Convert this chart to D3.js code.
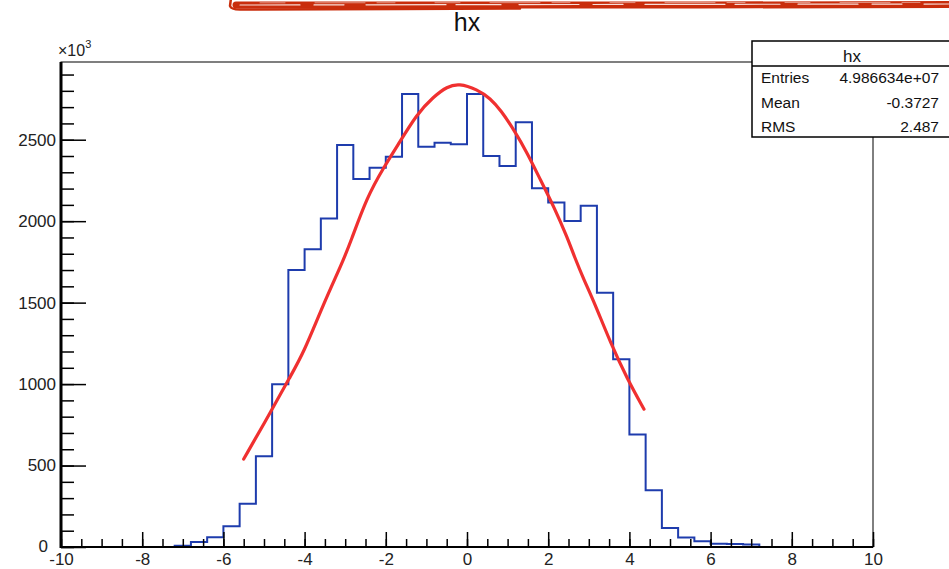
<!DOCTYPE html>
<html>
<head>
<meta charset="utf-8">
<script src="https://cdn.jsdelivr.net/npm/d3@7"></script>
<style>
  body { margin: 0; background: #fff; }
  svg { display: block; font-family: "Liberation Sans", Arial, sans-serif; }
</style>
</head>
<body>
<svg id="chart" width="949" height="569"></svg>
<script>
// histogram bins (lower edges, width 0.4) and counts in units of 10^3
const binEdges = [-7.2,-6.8,-6.4,-6.0,-5.6,-5.2,-4.8,-4.4,-4.0,-3.6,-3.2,-2.8,-2.4,-2.0,-1.6,-1.2,-0.8,-0.4,
                  0.0,0.4,0.8,1.2,1.6,2.0,2.4,2.8,3.2,3.6,4.0,4.4,4.8,5.2,5.6,6.0,6.4,6.8];
const binCounts = [8,31,60,127,266,557,999,1700,1827,2017,2468,2259,2328,2396,2781,2457,2482,2472,
                   2781,2400,2339,2607,2202,2115,2001,2095,1560,1153,690,348,117,58,35,20,18,15];
const binWidth = 0.4;

// hand drawn red fit curve
const fitX = [-5.5,-4.81,-4.36,-4.03,-3.53,-3.08,-2.87,-2.46,-2.05,-1.72,-1.23,-0.82,-0.49,-0.2,
              0.25,0.58,0.83,1.16,1.49,1.81,2.14,2.47,2.64,2.88,3.13,3.54,3.95,4.36];
const fitY = [540,840,1044,1188,1495,1740,1870,2150,2330,2460,2660,2765,2826,2846,
              2809,2753,2681,2560,2416,2253,2089,1900,1785,1640,1505,1250,1030,846];

const xMajor = [-10,-8,-6,-4,-2,0,2,4,6,8,10];
const yMajor = [0,500,1000,1500,2000,2500];

const stats = [["Entries","4.986634e+07"],["Mean","-0.3727"],["RMS","2.487"]];

const svg = d3.select("#chart");
const pLeft = 61, pRight = 873, pTop = 62, pBottom = 547;

let x = d3.scaleLinear().domain([-10, 10]).range([pLeft, pRight]);
let y = d3.scaleLinear().domain([0, 2977]).range([pBottom, pTop]);

// red scribble at the very top
const scribble = svg.append("g").attr("fill", "none").attr("stroke-linecap", "round");
scribble.append("path").attr("stroke", "#c92d0c").attr("stroke-width", 7)
  .attr("d", "M236,5 L420,5 L700,5 L949,4.5");
scribble.append("path").attr("stroke", "#c92d0c").attr("stroke-width", 2.5)
  .attr("d", "M231,-2 L230,6 Q231,9.5 240,9.5 L400,9 L520,8.5");
scribble.append("path").attr("stroke", "#fff").attr("stroke-width", 1.2).attr("opacity", 0.85)
  .attr("stroke-dasharray", "60,14,30,22,80,10,45,18")
  .attr("d", "M240,5 L949,4");
scribble.append("path").attr("stroke", "#fff").attr("stroke-width", 0.8).attr("opacity", 0.6)
  .attr("stroke-dasharray", "25,30,50,12,18,40")
  .attr("d", "M260,2.8 L949,2.4");

// frame
svg.append("rect").attr("x", pLeft).attr("y", pTop)
  .attr("width", pRight - pLeft).attr("height", pBottom - pTop)
  .attr("fill", "none").attr("stroke", "#000").attr("stroke-width", 1);

// histogram outline
let stepPts = [[binEdges[0], 0]];
binEdges.forEach((e, i) => {
  stepPts.push([e, binCounts[i]]);
  stepPts.push([e + binWidth, binCounts[i]]);
});
stepPts.push([binEdges[binEdges.length - 1] + binWidth, 0]);

svg.append("path")
  .datum(stepPts)
  .attr("fill", "none")
  .attr("stroke", "#1e3cad")
  .attr("stroke-width", 2)
  .attr("d", d3.line().x(d => x(d[0])).y(d => y(d[1])));

// fit curve
svg.append("path")
  .datum(fitX.map((v, i) => [v, fitY[i]]))
  .attr("fill", "none")
  .attr("stroke", "#f03030")
  .attr("stroke-width", 3.2)
  .attr("stroke-linecap", "round")
  .attr("d", d3.line().curve(d3.curveBasis).x(d => x(d[0])).y(d => y(d[1])));

// x axis
const xMinor = d3.range(-10, 10.01, 0.5);
svg.append("g").attr("transform", "translate(0," + pBottom + ")")
  .call(d3.axisBottom(x).tickValues(xMinor).tickSize(-8).tickFormat(""))
  .call(g => g.select(".domain").remove());
svg.append("g").attr("class", "xaxis").attr("transform", "translate(0," + pBottom + ")")
  .call(d3.axisBottom(x).tickValues(xMajor).tickSize(-15).tickPadding(6).tickFormat(d3.format("d")))
  .call(g => g.select(".domain").remove());

// y axis
const yMinor = d3.range(0, 2901, 100);
svg.append("g").attr("transform", "translate(" + pLeft + ",0)")
  .call(d3.axisLeft(y).tickValues(yMinor).tickSize(-13).tickFormat(""))
  .call(g => g.select(".domain").remove());
svg.append("g").attr("class", "yaxis").attr("transform", "translate(" + pLeft + ",0)")
  .call(d3.axisLeft(y).tickValues(yMajor).tickSize(-25).tickPadding(5).tickFormat(d3.format("d")))
  .call(g => g.select(".domain").remove());

svg.selectAll(".tick line").attr("stroke", "#000").attr("stroke-width", 1.5);
svg.selectAll(".xaxis text, .yaxis text")
  .attr("font-size", 17).attr("fill", "#222")
  .attr("font-family", "'Liberation Sans', Arial, sans-serif");
svg.selectAll(".xaxis text").text(d => d < 0 ? "-" + Math.abs(d) : d);
// the "0" label moves a bit left so it clears "-10"
svg.selectAll(".yaxis .tick").filter(d => d === 0).select("text")
  .attr("x", -13).attr("dy", "0.25em");

// thick axis lines
svg.append("line").attr("x1", pLeft).attr("x2", pLeft).attr("y1", pTop).attr("y2", pBottom + 1)
  .attr("stroke", "#000").attr("stroke-width", 3);
svg.append("line").attr("x1", pLeft).attr("x2", pRight).attr("y1", pBottom).attr("y2", pBottom)
  .attr("stroke", "#000").attr("stroke-width", 2);

// exponent label
const expo = svg.append("text").attr("x", 58).attr("y", 56).attr("font-size", 16).attr("fill", "#222");
expo.append("tspan").text("\u00d710");
expo.append("tspan").attr("dy", -8).attr("font-size", 11).text("3");

// title
svg.append("text").attr("x", 467).attr("y", 31).attr("text-anchor", "middle")
  .attr("font-size", 25).attr("fill", "#111").text("hx");

// stats box
const bx = 752, by = 41, bw = 205, bh = 96;
svg.append("rect").attr("x", bx).attr("y", by).attr("width", bw).attr("height", bh)
  .attr("fill", "#fff").attr("stroke", "#000").attr("stroke-width", 1.5);
svg.append("line").attr("x1", bx).attr("x2", bx + bw).attr("y1", 66).attr("y2", 66)
  .attr("stroke", "#000").attr("stroke-width", 1.5);
svg.append("text").attr("x", 852).attr("y", 62).attr("text-anchor", "middle")
  .attr("font-size", 17).attr("fill", "#111").text("hx");
stats.forEach((s, i) => {
  let ty = 83 + i * 24.5;
  svg.append("text").attr("x", 761).attr("y", ty).attr("font-size", 15.5).attr("fill", "#111").text(s[0]);
  svg.append("text").attr("x", 939).attr("y", ty).attr("text-anchor", "end")
    .attr("font-size", 15.5).attr("fill", "#111").text(s[1]);
});
</script>
</body>
</html>
